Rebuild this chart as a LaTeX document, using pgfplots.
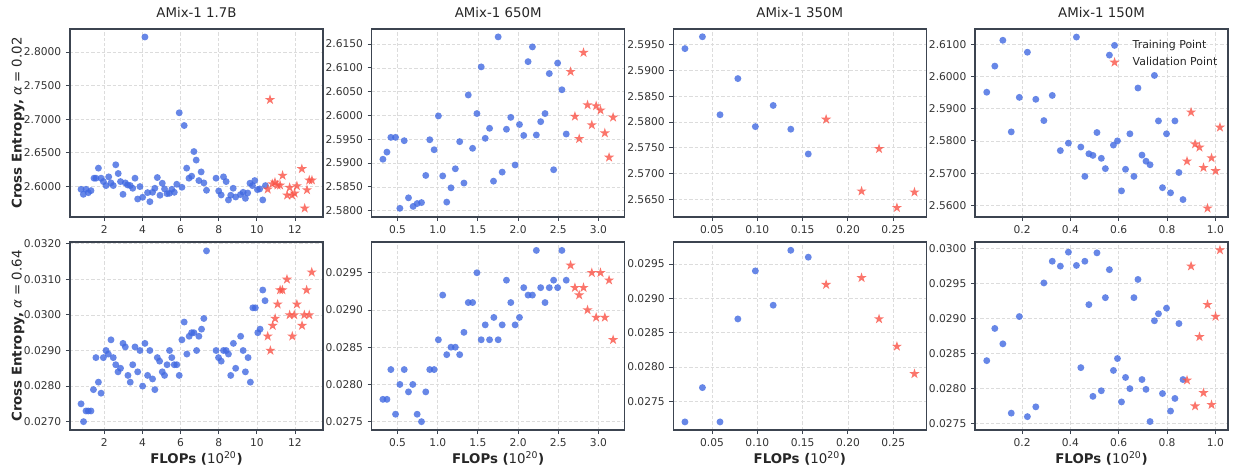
\documentclass[border=0pt]{standalone}
\usepackage{pgfplots}
\pgfplotsset{compat=1.18}
\usepgfplotslibrary{groupplots}
\usetikzlibrary{calc}
\usepackage{fontspec}
\setmainfont{DejaVu Sans}

\definecolor{ptblue}{RGB}{65,105,225}
\definecolor{ptred}{RGB}{250,82,70}
\definecolor{framec}{RGB}{60,68,80}
\definecolor{gridc}{RGB}{220,220,220}

% filled five-pointed star (inner radius 0.382 of outer)
\pgfdeclareplotmark{fstar}{%
  \pgfpathmoveto{\pgfpointpolar{90}{\pgfplotmarksize}}%
  \pgfpathlineto{\pgfpointpolar{126}{0.382\pgfplotmarksize}}%
  \pgfpathlineto{\pgfpointpolar{162}{\pgfplotmarksize}}%
  \pgfpathlineto{\pgfpointpolar{198}{0.382\pgfplotmarksize}}%
  \pgfpathlineto{\pgfpointpolar{234}{\pgfplotmarksize}}%
  \pgfpathlineto{\pgfpointpolar{270}{0.382\pgfplotmarksize}}%
  \pgfpathlineto{\pgfpointpolar{306}{\pgfplotmarksize}}%
  \pgfpathlineto{\pgfpointpolar{342}{0.382\pgfplotmarksize}}%
  \pgfpathlineto{\pgfpointpolar{18}{\pgfplotmarksize}}%
  \pgfpathlineto{\pgfpointpolar{54}{0.382\pgfplotmarksize}}%
  \pgfpathclose
  \pgfusepathqfill
}

\pgfplotsset{
  dotlegend/.style={legend image code/.code={%
      \draw[##1] plot coordinates {(0.1cm,0cm)};
      \path (0cm,0cm) (0.5cm,0cm);}},
  train/.style={only marks, mark=*, mark size=2.6pt,
    mark options={fill=ptblue, draw opacity=0, fill opacity=0.8}, dotlegend},
  val/.style={only marks, mark=fstar, mark size=4pt,
    mark options={fill=ptred, draw opacity=0, fill opacity=0.8}, dotlegend},
  yfmt/.style={yticklabel style={/pgf/number format/.cd, fixed, fixed zerofill, precision=4}},
  xfmt/.style={xticklabel style={/pgf/number format/.cd, fixed, fixed zerofill, precision=#1}},
}

\begin{document}
\begin{tikzpicture}
\begin{groupplot}[
  group style={group size=4 by 2, horizontal sep=36.5pt, vertical sep=18.75pt},
  scale only axis, width=189.75pt, height=141pt,
  axis line style={framec, line width=1pt},
  tick align=outside, xtick pos=bottom, ytick pos=left,
  major tick length=3pt,
  every tick/.style={framec, line width=0.7pt},
  grid=major,
  major grid style={gridc, dash pattern=on 2.5pt off 1.5pt, line width=0.5pt},
  tick label style={font=\fontsize{8}{9}\selectfont, text=black!80},
  /pgf/number format/assume math mode=true,
  scaled ticks=false,
  title style={font=\fontsize{10}{12}\selectfont, text=black!85, yshift=-1pt},
  every axis y label/.style={at={(axis description cs:-0.205,0.5)}, rotate=90, anchor=center,
    font=\fontsize{10}{12}\selectfont, text=black!85},
  every axis x label/.style={at={(axis description cs:0.5,-0.149)}, anchor=center,
    font=\fontsize{10}{12}\selectfont, text=black!85},
  legend style={draw=none, fill=none, font=\fontsize{8.2}{9.5}\selectfont, text=black!85,
    at={(axis description cs:0.985,0.97)}, anchor=north east, row sep=1pt},
  legend cell align=left,
]

% ---------- AMix-1 1.7B, alpha = 0.02
\nextgroupplot[title={AMix-1 1.7B},
  ylabel={\textbf{Cross Entropy,} {\itshape α} = 0.02},
  xmin=0.2, xmax=13.47, ymin=2.5542, ymax=2.8343,
  xtick={2,4,6,8,10,12}, ytick={2.60,2.65,2.70,2.75,2.80}, yfmt]
\addplot[train] table {
0.78 2.5955
0.90 2.5880
1.04 2.5955
1.16 2.5905
1.30 2.5935
1.46 2.6120
1.56 2.6120
1.69 2.6270
1.83 2.6120
1.95 2.6070
2.09 2.6010
2.23 2.6140
2.35 2.6050
2.47 2.6010
2.60 2.6320
2.73 2.6190
2.85 2.6070
2.98 2.5880
3.10 2.6050
3.22 2.6020
3.36 2.6010
3.49 2.5970
3.61 2.6120
3.75 2.5810
3.87 2.5995
4.01 2.5836
4.13 2.8224
4.27 2.5905
4.39 2.5770
4.53 2.5910
4.65 2.5970
4.78 2.6130
4.92 2.5866
5.04 2.6045
5.16 2.5960
5.29 2.5890
5.41 2.5895
5.54 2.5955
5.67 2.5910
5.80 2.6030
5.93 2.7095
6.07 2.5985
6.19 2.6905
6.32 2.6270
6.44 2.6120
6.58 2.6150
6.70 2.6517
6.82 2.6390
6.96 2.6085
7.08 2.6214
7.22 2.6050
7.36 2.5940
7.86 2.6120
8.00 2.5930
8.13 2.5870
8.25 2.6140
8.39 2.6070
8.51 2.5796
8.63 2.5866
8.76 2.5970
8.89 2.5840
9.14 2.5876
9.28 2.5910
9.40 2.5820
9.52 2.5900
9.64 2.6045
9.77 2.6010
9.89 2.6085
10.03 2.5950
10.15 2.5960
10.31 2.5796
10.45 2.6010
};
\addplot[val] table {
10.57 2.5955
10.69 2.7289
10.81 2.6035
10.95 2.6060
11.08 2.6015
11.22 2.6015
11.35 2.6160
11.59 2.5866
11.72 2.5980
11.85 2.5866
11.98 2.5895
12.10 2.6005
12.36 2.6259
12.51 2.5672
12.63 2.5945
12.75 2.6090
12.89 2.6090
};

% ---------- AMix-1 650M, alpha = 0.02
\nextgroupplot[title={AMix-1 650M},
  xmin=0.178, xmax=3.326, ymin=2.57867, ymax=2.61816,
  xtick={0.5,1.0,1.5,2.0,2.5,3.0}, xfmt=1,
  ytick={2.580,2.585,2.590,2.595,2.600,2.605,2.610,2.615}, yfmt]
\addplot[train] table {
0.318 2.5908
0.368 2.5923
0.417 2.5954
0.475 2.5954
0.529 2.5805
0.583 2.5947
0.636 2.5827
0.694 2.5809
0.744 2.5815
0.798 2.5817
0.851 2.5874
0.901 2.5949
0.955 2.5928
1.008 2.5999
1.062 2.5873
1.112 2.5818
1.165 2.5848
1.219 2.5888
1.273 2.5945
1.326 2.5858
1.380 2.6043
1.434 2.5931
1.488 2.6004
1.541 2.6102
1.591 2.5952
1.645 2.5973
1.694 2.5862
1.752 2.6165
1.802 2.5881
1.855 2.5971
1.909 2.5996
1.963 2.5896
2.017 2.5981
2.070 2.5958
2.124 2.6113
2.178 2.6144
2.227 2.5959
2.281 2.5987
2.335 2.6004
2.388 2.6088
2.442 2.5886
2.492 2.6110
2.545 2.6054
2.599 2.5961
};
\addplot[val] table {
2.653 2.6092
2.707 2.5998
2.760 2.5951
2.814 2.6132
2.864 2.6022
2.917 2.5980
2.971 2.6020
3.025 2.6011
3.079 2.5963
3.132 2.5912
3.182 2.5996
};

% ---------- AMix-1 350M, alpha = 0.02
\nextgroupplot[title={AMix-1 350M},
  xmin=0.0073, xmax=0.2865, ymin=2.5616, ymax=2.5980,
  xtick={0.05,0.10,0.15,0.20,0.25}, xfmt=2,
  ytick={2.565,2.570,2.575,2.580,2.585,2.590,2.595}, yfmt]
\addplot[train] table {
0.0201 2.5942
0.0394 2.5965
0.0588 2.5814
0.0785 2.5884
0.0978 2.5791
0.1175 2.5832
0.1369 2.5786
0.1562 2.5738
};
\addplot[val] table {
0.1759 2.5805
0.2150 2.5666
0.2343 2.5748
0.2540 2.5634
0.2734 2.5664
};

% ---------- AMix-1 150M, alpha = 0.02
\nextgroupplot[title={AMix-1 150M},
  xmin=0.005, xmax=1.0525, ymin=2.5564, ymax=2.6147,
  xtick={0.2,0.4,0.6,0.8,1.0}, xfmt=1,
  ytick={2.56,2.57,2.58,2.59,2.60,2.61}, yfmt]
\addplot[train] table {
0.0536 2.5951
0.0870 2.6032
0.1203 2.6112
0.1551 2.5828
0.1885 2.5935
0.2219 2.6075
0.2567 2.5929
0.2901 2.5863
0.3249 2.5941
0.3583 2.5770
0.3917 2.5793
0.4250 2.6122
0.4431 2.5781
0.4598 2.5690
0.4765 2.5760
0.4932 2.5755
0.5099 2.5826
0.5280 2.5746
0.5447 2.5714
0.5614 2.6066
0.5781 2.5787
0.5948 2.5800
0.6115 2.5645
0.6282 2.5712
0.6463 2.5822
0.6630 2.5690
0.6797 2.5964
0.6963 2.5756
0.7130 2.5737
0.7297 2.5726
0.7478 2.6003
0.7645 2.5862
0.7812 2.5655
0.7979 2.5822
0.8146 2.5639
0.8327 2.5862
0.8494 2.5702
0.8661 2.5618
};
\addlegendentry{Training Point}
\addplot[val] table {
0.8828 2.5737
0.8995 2.5889
0.9162 2.5790
0.9343 2.5780
0.9510 2.5717
0.9677 2.5591
0.9843 2.5747
1.0010 2.5707
1.0191 2.5842
};
\addlegendentry{Validation Point}

% ---------- AMix-1 1.7B, alpha = 0.64
\nextgroupplot[
  ylabel={\textbf{Cross Entropy,} {\itshape α} = 0.64},
  xlabel={\textbf{FLOPs (}10\textsuperscript{20}\textbf{)}},
  xmin=0.2, xmax=13.47, ymin=0.026765, ymax=0.03205,
  xtick={2,4,6,8,10,12},
  ytick={0.027,0.028,0.029,0.030,0.031,0.032}, yfmt]
\addplot[train] table {
0.78 0.02750
0.91 0.02700
1.04 0.02730
1.16 0.02730
1.30 0.02730
1.43 0.02790
1.56 0.02880
1.69 0.02811
1.83 0.02780
1.95 0.02880
2.09 0.02900
2.21 0.02890
2.35 0.02930
2.47 0.02880
2.60 0.02860
2.72 0.02840
2.85 0.02850
2.98 0.02920
3.10 0.02910
3.24 0.02830
3.36 0.02811
3.49 0.02860
3.61 0.02910
3.75 0.02840
3.87 0.02900
4.01 0.02800
4.13 0.02920
4.27 0.02830
4.39 0.02900
4.53 0.02820
4.65 0.02790
4.78 0.02880
4.90 0.02870
5.04 0.02840
5.16 0.02830
5.29 0.02860
5.42 0.02900
5.54 0.02880
5.67 0.02860
5.80 0.02860
5.93 0.02830
6.07 0.02930
6.19 0.02980
6.33 0.02890
6.45 0.02940
6.58 0.02950
6.70 0.02950
6.84 0.02900
6.96 0.02940
7.10 0.02960
7.22 0.02990
7.36 0.03180
7.86 0.02900
7.99 0.02880
8.13 0.02870
8.25 0.02900
8.39 0.02900
8.51 0.02890
8.63 0.02830
8.77 0.02920
8.89 0.02850
9.15 0.02940
9.28 0.02900
9.40 0.02840
9.54 0.02880
9.66 0.02811
9.79 0.03020
9.92 0.03020
10.05 0.02950
10.17 0.02960
10.31 0.03070
10.43 0.03040
};
\addplot[val] table {
10.57 0.02940
10.71 0.02900
10.83 0.02970
10.96 0.02990
11.09 0.03030
11.22 0.03070
11.34 0.03070
11.58 0.03100
11.72 0.03000
11.86 0.02940
11.96 0.03000
12.10 0.03030
12.37 0.02970
12.49 0.03000
12.61 0.03070
12.75 0.03000
12.88 0.03120
};

% ---------- AMix-1 650M, alpha = 0.64
\nextgroupplot[
  xlabel={\textbf{FLOPs (}10\textsuperscript{20}\textbf{)}},
  xmin=0.178, xmax=3.326, ymin=0.027388, ymax=0.029913,
  xtick={0.5,1.0,1.5,2.0,2.5,3.0}, xfmt=1,
  ytick={0.0275,0.0280,0.0285,0.0290,0.0295}, yfmt]
\addplot[train] table {
0.318 0.02780
0.368 0.02780
0.417 0.02820
0.475 0.02760
0.529 0.02800
0.583 0.02820
0.636 0.02790
0.690 0.02800
0.744 0.02760
0.798 0.02750
0.851 0.02790
0.901 0.02820
0.955 0.02820
1.008 0.02860
1.062 0.02920
1.112 0.02840
1.165 0.02850
1.219 0.02850
1.273 0.02840
1.326 0.02870
1.380 0.02910
1.434 0.02910
1.488 0.02950
1.541 0.02860
1.591 0.02880
1.645 0.02860
1.698 0.02890
1.752 0.02860
1.802 0.02880
1.855 0.02940
1.909 0.02910
1.963 0.02880
2.017 0.02890
2.070 0.02930
2.124 0.02920
2.178 0.02920
2.227 0.02980
2.281 0.02930
2.335 0.02910
2.388 0.02930
2.442 0.02940
2.492 0.02930
2.545 0.02980
2.599 0.02940
};
\addplot[val] table {
2.653 0.02960
2.707 0.02930
2.760 0.02920
2.814 0.02930
2.864 0.02900
2.917 0.02950
2.971 0.02890
3.025 0.02950
3.079 0.02890
3.132 0.02940
3.182 0.02860
};

% ---------- AMix-1 350M, alpha = 0.64
\nextgroupplot[
  xlabel={\textbf{FLOPs (}10\textsuperscript{20}\textbf{)}},
  xmin=0.0073, xmax=0.2865, ymin=0.027082, ymax=0.029821,
  xtick={0.05,0.10,0.15,0.20,0.25}, xfmt=2,
  ytick={0.0275,0.0280,0.0285,0.0290,0.0295}, yfmt]
\addplot[train] table {
0.0201 0.02720
0.0394 0.02770
0.0588 0.02720
0.0785 0.02870
0.0978 0.02940
0.1175 0.02890
0.1369 0.02970
0.1562 0.02960
};
\addplot[val] table {
0.1759 0.02920
0.2150 0.02930
0.2343 0.02870
0.2540 0.02830
0.2734 0.02790
};

% ---------- AMix-1 150M, alpha = 0.64
\nextgroupplot[
  xlabel={\textbf{FLOPs (}10\textsuperscript{20}\textbf{)}},
  xmin=0.005, xmax=1.0525, ymin=0.027409, ymax=0.030095,
  xtick={0.2,0.4,0.6,0.8,1.0}, xfmt=1,
  ytick={0.0275,0.0280,0.0285,0.0290,0.0295,0.0300}, yfmt]
\addplot[train] table {
0.0536 0.02840
0.0870 0.02886
0.1203 0.02864
0.1551 0.02765
0.1885 0.02903
0.2219 0.02760
0.2567 0.02774
0.2901 0.02951
0.3249 0.02982
0.3583 0.02975
0.3917 0.02995
0.4250 0.02976
0.4431 0.02830
0.4598 0.02982
0.4765 0.02920
0.4932 0.02789
0.5099 0.02994
0.5280 0.02797
0.5447 0.02930
0.5614 0.02970
0.5781 0.02826
0.5948 0.02843
0.6115 0.02781
0.6282 0.02816
0.6463 0.02800
0.6630 0.02930
0.6797 0.02956
0.6963 0.02813
0.7130 0.02799
0.7297 0.02753
0.7478 0.02897
0.7645 0.02907
0.7812 0.02793
0.7979 0.02915
0.8146 0.02768
0.8327 0.02786
0.8494 0.02893
0.8661 0.02813
};
\addplot[val] table {
0.8828 0.02812
0.8995 0.02975
0.9162 0.02775
0.9343 0.02874
0.9510 0.02794
0.9677 0.02920
0.9843 0.02777
1.0010 0.02903
1.0191 0.02998
};
\end{groupplot}
\pgfresetboundingbox
\path ($(group c1r1.north west)+(-52.5pt,21.75pt)$) rectangle ($(group c4r2.south east)+(3.75pt,-26.25pt)$);
\end{tikzpicture}
\end{document}
